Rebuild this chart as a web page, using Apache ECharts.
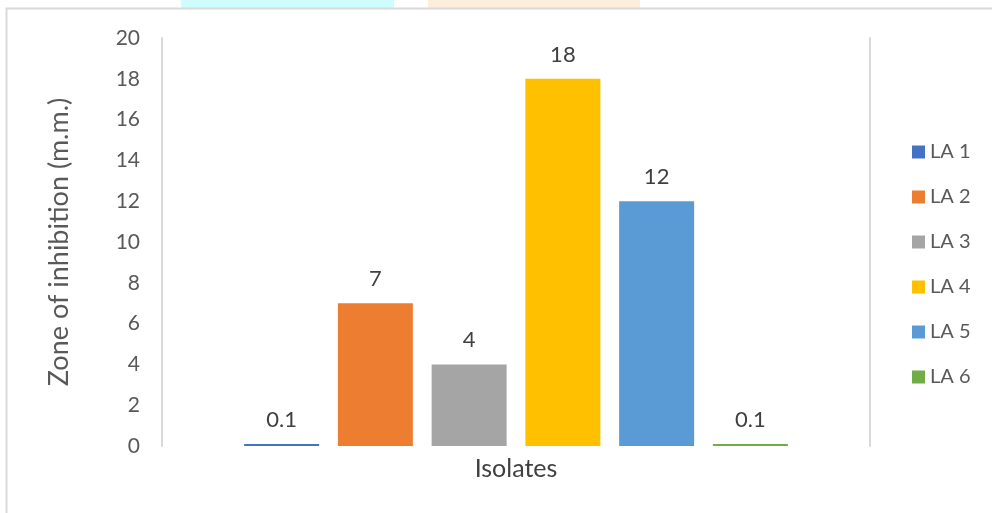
<!DOCTYPE html>
<html>
<head>
<meta charset="utf-8">
<title>Zone of inhibition by isolate</title>
<script src="https://cdn.jsdelivr.net/npm/echarts@6/dist/echarts.min.js"></script>
<style>
  html, body { margin: 0; padding: 0; background: #ffffff; }
  #chart { width: 992px; height: 513px; }
</style>
</head>
<body>
<div id="chart"></div>
<script>
// Isolates and their measured zones of inhibition (mm)
const isolates = ['LA 1', 'LA 2', 'LA 3', 'LA 4', 'LA 5', 'LA 6'];
const inhibition = [0.1, 7, 4, 18, 12, 0.1];
const barColors = ['#4472C4', '#ED7D31', '#A5A5A5', '#FFC000', '#5B9BD5', '#70AD47'];
const yTicks = { min: 0, max: 20, step: 2 };

const FONT = 'Lato, "Liberation Sans", sans-serif';

const chart = echarts.init(document.getElementById('chart'), null, { renderer: 'canvas' });

const series = isolates.map((name, i) => ({
  name: name,
  type: 'bar',
  data: [inhibition[i]],
  barWidth: 75,
  barGap: '25%',
  itemStyle: { color: barColors[i] },
  label: {
    show: true,
    position: 'top',
    distance: 13,
    color: '#404040',
    fontFamily: FONT,
    fontSize: 22
  }
}));

chart.setOption({
  animation: false,
  backgroundColor: '#ffffff',
  textStyle: { fontFamily: FONT },
  grid: { left: 162, right: 122, top: 38, bottom: 67, containLabel: false },
  xAxis: {
    type: 'category',
    data: [''],
    name: 'Isolates',
    nameLocation: 'middle',
    nameGap: 10,
    nameTextStyle: { color: '#404040', fontSize: 25, fontFamily: FONT },
    axisLine: { show: false },
    axisTick: { show: false },
    axisLabel: { show: false },
    splitLine: { show: false }
  },
  yAxis: [
    {
      type: 'value',
      min: yTicks.min,
      max: yTicks.max,
      interval: yTicks.step,
      name: 'Zone of inhibition (m.m.)',
      nameLocation: 'middle',
      nameRotate: 90,
      nameGap: 89,
      nameTextStyle: { color: '#595959', fontSize: 27, fontFamily: FONT },
      axisLine: { show: true, lineStyle: { color: '#d9d9d9', width: 2 } },
      axisTick: { show: false },
      axisLabel: { color: '#595959', fontSize: 21, fontFamily: FONT, margin: 22 },
      splitLine: { show: false }
    },
    {
      type: 'value',
      position: 'right',
      min: yTicks.min,
      max: yTicks.max,
      interval: yTicks.step,
      axisLine: { show: true, lineStyle: { color: '#d9d9d9', width: 2 } },
      axisTick: { show: false },
      axisLabel: { show: false },
      splitLine: { show: false }
    }
  ],
  legend: {
    orient: 'vertical',
    left: 907,
    top: 137,
    itemWidth: 13,
    itemHeight: 13,
    itemGap: 25,
    icon: 'rect',
    data: isolates,
    textStyle: { color: '#595959', fontSize: 20, fontFamily: FONT }
  },
  graphic: [
    // faint header strips above the frame
    { type: 'rect', shape: { x: 181, y: 0, width: 213, height: 8 }, style: { fill: '#cffdfd' }, silent: true },
    { type: 'rect', shape: { x: 428, y: 0, width: 212, height: 8 }, style: { fill: '#fdeedc' }, silent: true },
    // outer frame
    { type: 'rect', shape: { x: 6.5, y: 8.5, width: 1000, height: 520 }, style: { fill: 'none', stroke: '#d9d9d9', lineWidth: 2 }, silent: true, z: 10 }
  ],
  series: series
});
</script>
</body>
</html>
